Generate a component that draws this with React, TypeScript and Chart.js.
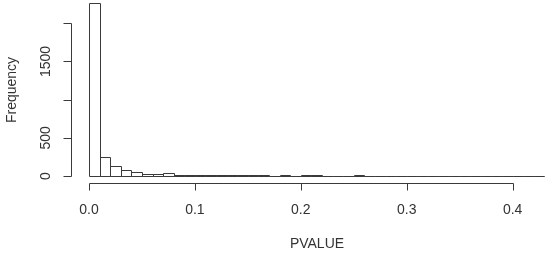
import React, { useEffect, useRef } from "react";
import { Chart, registerables } from "chart.js";

Chart.register(...registerables);

// Histogram bins (width 0.01), starting at 0.00
const binStart = 0;
const binWidth = 0.01;
const frequencies = [
  2266, 253, 127, 75, 57, 22, 22, 35, 14, 12,
  11, 10, 11, 9, 10, 8, 9, 2, 8, 2,
  9, 8, 2, 1, 2, 8, 1, 0, 0, 0,
  0, 0, 0, 0, 0, 0, 0, 0, 0, 0,
  0, 0, 1,
];
const xTicks = [0, 0.1, 0.2, 0.3, 0.4];
const xTickLabels = ["0.0", "0.1", "0.2", "0.3", "0.4"];
const yTicks = [0, 500, 1000, 1500, 2000];
const yTickLabels = ["0", "500", "", "1500", ""];
const xTitle = "PVALUE";
const yTitle = "Frequency";

const FONT = "14px 'Liberation Sans', Arial, sans-serif";
const AXIS_COLOR = "#3a3a3a";
const TEXT_COLOR = "#333333";

const rAxesPlugin = {
  id: "rAxes",
  afterDatasetsDraw(chart: any) {
    const { ctx } = chart;
    const meta = chart.getDatasetMeta(0);
    ctx.save();
    ctx.strokeStyle = AXIS_COLOR;
    ctx.lineWidth = 1;
    meta.data.forEach((bar: any) => {
      const p = bar.getProps(["x", "y", "base", "width"], true);
      const l = Math.round(p.x - p.width / 2) + 0.5;
      const r = Math.round(p.x + p.width / 2) + 0.5;
      const t = Math.round(p.y) + 0.5;
      const b = Math.round(p.base) + 0.5;
      ctx.beginPath();
      ctx.rect(l, t, r - l, b - t);
      ctx.stroke();
    });
    ctx.restore();
  },
  afterDraw(chart: any) {
    const { ctx, scales } = chart;
    const xs = scales.x;
    const ys = scales.y;
    const xAxisY = ys.bottom;
    const yAxisX = xs.left;
    ctx.save();
    ctx.strokeStyle = AXIS_COLOR;
    ctx.lineWidth = 1;

    // x axis
    const xa = Math.round(xAxisY) + 0.5;
    ctx.beginPath();
    ctx.moveTo(Math.round(xs.getPixelForValue(xTicks[0])) + 0.5, xa);
    ctx.lineTo(Math.round(xs.getPixelForValue(xTicks[xTicks.length - 1])) + 0.5, xa);
    xTicks.forEach((t) => {
      const px = Math.round(xs.getPixelForValue(t)) + 0.5;
      ctx.moveTo(px, xa);
      ctx.lineTo(px, xa + 7);
    });
    ctx.stroke();

    // y axis
    const ya = Math.round(yAxisX) + 0.5;
    ctx.beginPath();
    ctx.moveTo(ya, Math.round(ys.getPixelForValue(yTicks[0])) + 0.5);
    ctx.lineTo(ya, Math.round(ys.getPixelForValue(yTicks[yTicks.length - 1])) + 0.5);
    yTicks.forEach((t) => {
      const py = Math.round(ys.getPixelForValue(t)) + 0.5;
      ctx.moveTo(ya, py);
      ctx.lineTo(ya - 8, py);
    });
    ctx.stroke();

    ctx.fillStyle = TEXT_COLOR;
    ctx.font = FONT;
    ctx.textAlign = "center";
    ctx.textBaseline = "middle";
    xTicks.forEach((t, i) => {
      ctx.fillText(xTickLabels[i], xs.getPixelForValue(t), 210);
    });
    yTicks.forEach((t, i) => {
      if (!yTickLabels[i]) return;
      ctx.save();
      ctx.translate(46, ys.getPixelForValue(t));
      ctx.rotate(-Math.PI / 2);
      ctx.fillText(yTickLabels[i], 0, 0);
      ctx.restore();
    });
    ctx.fillText(xTitle, 317, 244);
    ctx.save();
    ctx.translate(12, 90);
    ctx.rotate(-Math.PI / 2);
    ctx.fillText(yTitle, 0, 0);
    ctx.restore();
    ctx.restore();
  },
};

export default function App() {
  const ref = useRef<HTMLCanvasElement>(null);
  useEffect(() => {
    if (!ref.current) return;
    const data = frequencies.map((f, i) => ({
      x: binStart + (i + 0.5) * binWidth,
      y: f,
    }));
    const chart = new Chart(ref.current, {
      type: "bar",
      data: {
        datasets: [
          {
            data: data as any,
            backgroundColor: "#ffffff",
            borderWidth: 0,
            barPercentage: 1,
            categoryPercentage: 1,
          },
        ],
      },
      options: {
        responsive: false,
        animation: false,
        layout: { padding: { left: 71, top: 0, right: 0, bottom: 72 } },
        plugins: { legend: { display: false }, tooltip: { enabled: false } },
        scales: {
          x: {
            type: "linear",
            display: false,
            min: -0.017,
            max: 0.4353,
            offset: false,
          },
          y: {
            type: "linear",
            display: false,
            min: -91.7,
            max: 2305,
          },
        },
      },
      plugins: [rAxesPlugin],
    });
    return () => chart.destroy();
  }, []);
  return (
    <div style={{ position: "fixed", left: 0, top: 0, width: 550, height: 255, background: "#fff" }}>
      <canvas ref={ref} width={550} height={255} />
    </div>
  );
}
